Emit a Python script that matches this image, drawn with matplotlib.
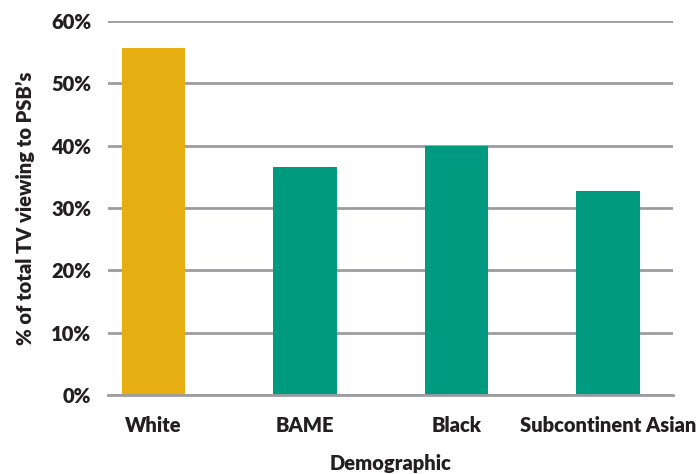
import matplotlib.pyplot as plt
from matplotlib.ticker import PercentFormatter

# share of total TV viewing going to PSBs, by demographic
groups = ['White', 'BAME', 'Black', 'Subcontinent Asian']
share = [55.6, 36.6, 40.0, 32.8]
bar_colors = ['#e6ae10', '#009a80', '#009a80', '#009a80']

plt.rcParams['font.family'] = ['Lato', 'DejaVu Sans']
plt.rcParams['font.weight'] = 'heavy'
text_color = '#231f20'
grid_color = '#9d9da1'

fig = plt.figure(figsize=(6.99, 4.74), dpi=100)
ax = fig.add_axes([0.1545, 0.1667, 0.8085, 0.789])

x = range(len(groups))
ax.bar(x, share, width=0.42, color=bar_colors, zorder=3)

ax.set_ylim(0, 60)
ax.set_yticks(range(0, 61, 10))
ax.yaxis.set_major_formatter(PercentFormatter(decimals=0))
ax.set_xlim(-0.30, 3.43)
ax.set_xticks(list(x))
ax.set_xticklabels(groups)

ax.grid(axis='y', color=grid_color, linewidth=2, zorder=0)
for side in ['left', 'right', 'top']:
    ax.spines[side].set_visible(False)
ax.spines['bottom'].set_color(grid_color)
ax.spines['bottom'].set_linewidth(2)
ax.spines['bottom'].set_zorder(4)

ax.tick_params(axis='both', length=0, labelsize=14.5, colors=text_color)
ax.tick_params(axis='y', pad=12)
ax.tick_params(axis='x', pad=15)

ax.set_xlabel('Demographic', fontsize=14.5, color=text_color, labelpad=14,
              fontweight='heavy')
ax.set_ylabel('% of total TV viewing to PSB\u2019s', fontsize=14.5,
              color=text_color, labelpad=12, fontweight='heavy')

fig.savefig('out.png', dpi=100)
